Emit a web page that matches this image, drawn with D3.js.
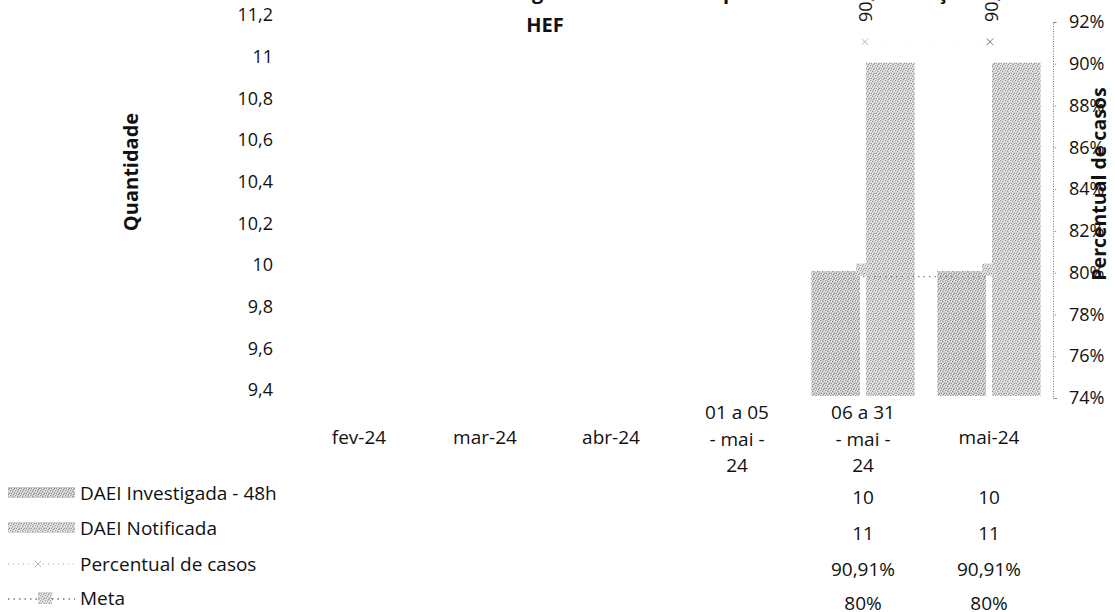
<!DOCTYPE html>
<html><head><meta charset="utf-8">
<script src="https://cdn.jsdelivr.net/npm/d3@7"></script>
<style>
body{margin:0;background:#fff;}
svg text{font-family:"Open Sans","Noto Sans",sans-serif;fill:#111;}
</style></head>
<body><svg id="c" width="1115" height="612"></svg>
<script>
// ---- data ----
const categories = ["fev-24","mar-24","abr-24","01 a 05 - mai - 24","06 a 31 - mai - 24","mai-24"];
const categoryLines = [["fev-24"],["mar-24"],["abr-24"],["01 a 05","- mai -","24"],["06 a 31","- mai -","24"],["mai-24"]];
const investigada = [null,null,null,null,10,10];
const notificada = [null,null,null,null,11,11];
const percentual = [null,null,null,null,0.9091,0.9091];
const meta = [null,null,null,null,0.80,0.80];
const leftTicks = [9.4,9.6,9.8,10,10.2,10.4,10.6,10.8,11,11.2];
const rightTicks = [0.74,0.76,0.78,0.80,0.82,0.84,0.86,0.88,0.90,0.92];
const seriesNames = ["DAEI Investigada - 48h","DAEI Notificada","Percentual de casos","Meta"];
const titleText = "Percentual de DAEI investigadas em até 48h após a data de notificação";
const subtitleText = "HEF";

const loc = d3.formatLocale({decimal:",",thousands:".",grouping:[3],currency:["R$",""]});
const fmtNum = v => loc.format("~g")(+v.toFixed(2));
const fmtPct0 = loc.format(".0%");
const fmtPct2 = loc.format(".2%");
const FS = 19;

const svg = d3.select("#c");
const defs = svg.append("defs");
// stipple texture for bars
function stipple(id, base, dark){
  const p = defs.append("pattern").attr("id",id).attr("width",5).attr("height",5).attr("patternUnits","userSpaceOnUse");
  p.append("rect").attr("width",5).attr("height",5).attr("fill",base);
  [[0,0],[2,1],[4,3],[1,3],[3,4]].forEach(([a,b])=>p.append("rect").attr("x",a).attr("y",b).attr("width",1).attr("height",1).attr("fill",dark));
  [[1,1],[4,0],[0,4],[2,3]].forEach(([a,b])=>p.append("rect").attr("x",a).attr("y",b).attr("width",1).attr("height",1).attr("fill","#f4f4f4"));
}
stipple("pInv","#cbcbcb","#8c8c8c");
stipple("pNot","#d3d3d3","#959595");
stipple("pMeta","#d8d8d8","#9a9a9a");

const x0 = d3.scaleBand().domain(categories).range([296,1052]).paddingInner(0.18).paddingOuter(0.09);
const x1 = d3.scaleBand().domain(["inv","not"]).range([0,x0.bandwidth()]).paddingInner(0.11);
const yL = d3.scaleLinear().domain([9.4,11.2]).range([396,21]);
const yR = d3.scaleLinear().domain([0.74,0.92]).range([398,22]);

// title (top cut off as in the scan)
svg.append("text").attr("x",972).attr("y",-1).attr("text-anchor","end").attr("font-weight","bold").attr("font-size",20).text(titleText);
svg.append("text").attr("x",545).attr("y",32).attr("text-anchor","middle").attr("font-weight","bold").attr("font-size",20).text(subtitleText);

// left axis
const gL = svg.append("g").attr("transform","translate(281,0)")
  .call(d3.axisLeft(yL).tickValues(leftTicks).tickSize(0).tickPadding(8).tickFormat(fmtNum));
gL.select(".domain").remove();
gL.selectAll("text").attr("font-size",18).attr("font-family","'Open Sans',sans-serif").attr("fill","#111").attr("transform","translate(0,-6)");

// right axis
const gR = svg.append("g").attr("transform","translate(1053,0)")
  .call(d3.axisRight(yR).tickValues(rightTicks).tickSize(4).tickPadding(12).tickFormat(fmtPct0));
gR.select(".domain").attr("stroke","#777").attr("stroke-dasharray","1,1.5");
gR.selectAll(".tick line").attr("stroke","#888").attr("stroke-dasharray","1,1");
gR.selectAll("text").attr("font-size",18).attr("font-family","'Open Sans',sans-serif").attr("fill","#111");

// axis titles
svg.append("text").attr("transform","translate(130,172) rotate(-90)").attr("text-anchor","middle").attr("dominant-baseline","central")
  .attr("font-weight","bold").attr("font-size",20).text("Quantidade");
svg.append("text").attr("transform","translate(1098,184) rotate(-90)").attr("text-anchor","middle").attr("dominant-baseline","central")
  .attr("font-weight","bold").attr("font-size",19.5).text("Percentual de casos");

// bars
const barData = [];
categories.forEach((c,i)=>{
  if(investigada[i]!=null) barData.push({c,k:"inv",v:investigada[i]});
  if(notificada[i]!=null) barData.push({c,k:"not",v:notificada[i]});
});
svg.append("g").selectAll("rect").data(barData).join("rect")
  .attr("x",d=>x0(d.c)+x1(d.k)).attr("width",x1.bandwidth())
  .attr("y",d=>yL(d.v)).attr("height",d=>yL(9.4)-yL(d.v))
  .attr("fill",d=>d.k==="inv"?"url(#pInv)":"url(#pNot)");

const cx = c => x0(c)+x0.bandwidth()/2;
// meta line + markers
const metaPts = categories.map((c,i)=>({c,v:meta[i]})).filter(d=>d.v!=null);
svg.append("path").datum(metaPts).attr("fill","none").attr("stroke","#8a8a8a").attr("stroke-width",1.3).attr("stroke-dasharray","1.5,4")
  .attr("d",d3.line().x(d=>cx(d.c)).y(d=>yR(d.v)+4));
svg.append("g").selectAll("rect").data(metaPts).join("rect")
  .attr("x",d=>cx(d.c)-7).attr("y",d=>yR(d.v)-9).attr("width",14).attr("height",12).attr("fill","url(#pMeta)");

// percentual line + markers
const pctPts = categories.map((c,i)=>({c,v:percentual[i]})).filter(d=>d.v!=null);
svg.append("path").datum(pctPts).attr("fill","none").attr("stroke","#ededed").attr("stroke-width",1).attr("stroke-dasharray","1,5")
  .attr("d",d3.line().x(d=>cx(d.c)).y(d=>yR(d.v)-3));
const xm = d3.symbol().type(d3.symbolX).size(30);
svg.append("g").selectAll("path").data(pctPts).join("path")
  .attr("transform",(d,i)=>`translate(${cx(d.c)+(i?1:2)},${yR(d.v)-3})`).attr("d",xm)
  .attr("fill","none").attr("stroke",(d,i)=>i?"#777":"#bbb").attr("stroke-width",1);
// rotated data labels (cut by the top edge, as in the reference)
svg.append("g").selectAll("text").data(pctPts).join("text")
  .attr("transform",d=>`translate(${cx(d.c)+2},22) rotate(-90)`).attr("dominant-baseline","central")
  .attr("font-size",18).text(d=>fmtPct2(d.v));

// category labels
const cg = svg.append("g");
categories.forEach((c,i)=>{
  const lines = categoryLines[i];
  const ys = lines.length===1 ? [437] : [412,439,465];
  lines.forEach((t,j)=>cg.append("text").attr("x",cx(c)).attr("y",ys[j]).attr("text-anchor","middle").attr("dominant-baseline","central").attr("font-size",FS).text(t));
});

// data table / legend
const rowY = [493,528,564,598];
const valRowY = [497,533,569,603];
const tableVals = [investigada.map(v=>v==null?"":fmtNum(v)), notificada.map(v=>v==null?"":fmtNum(v)),
  percentual.map(v=>v==null?"":fmtPct2(v)), meta.map(v=>v==null?"":fmtPct0(v))];
const lg = svg.append("g");
seriesNames.forEach((n,r)=>{
  const y = rowY[r];
  if(r<2){
    lg.append("rect").attr("x",8).attr("y",y-6).attr("width",67).attr("height",11).attr("fill",r===0?"url(#pInv)":"url(#pNot)");
  } else if(r===2){
    lg.append("line").attr("x1",8).attr("x2",75).attr("y1",y).attr("y2",y).attr("stroke","#aaa").attr("stroke-dasharray","1,4");
    lg.append("path").attr("transform",`translate(38,${y})`).attr("d",xm).attr("fill","none").attr("stroke","#bbb");
  } else {
    lg.append("line").attr("x1",8).attr("x2",75).attr("y1",y+1).attr("y2",y+1).attr("stroke","#777").attr("stroke-width",1.3).attr("stroke-dasharray","1.5,4");
    lg.append("rect").attr("x",38).attr("y",y-6).attr("width",14).attr("height",12).attr("fill","url(#pMeta)");
  }
  lg.append("text").attr("x",80).attr("y",y).attr("dominant-baseline","central").attr("font-size",FS).text(n);
  categories.forEach((c,i)=>{
    if(tableVals[r][i]!=="") lg.append("text").attr("x",cx(c)).attr("y",valRowY[r]).attr("text-anchor","middle").attr("dominant-baseline","central").attr("font-size",FS).text(tableVals[r][i]);
  });
});
</script></body></html>
